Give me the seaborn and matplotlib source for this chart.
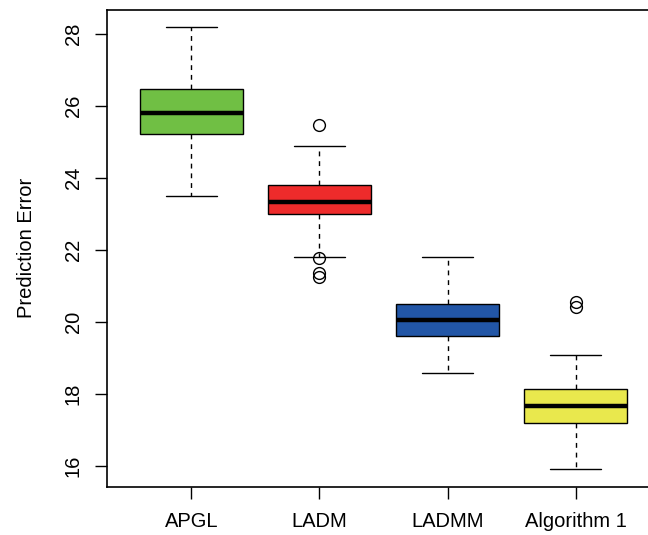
import numpy as np
import pandas as pd
import seaborn as sns
import matplotlib.pyplot as plt

# values (17 obs per method)
methods = ['APGL', 'LADM', 'LADMM', 'Algorithm 1']
apgl = [23.5, 24.0, 24.5, 24.9, 25.23, 25.4, 25.55, 25.7, 25.81,
        25.95, 26.1, 26.3, 26.47, 26.8, 27.2, 27.7, 28.19]
ladm = [21.24, 21.37, 21.77, 21.80, 23.00, 23.1, 23.2, 23.28, 23.34,
        23.45, 23.55, 23.7, 23.81, 24.1, 24.4, 24.89, 25.46]
ladmm = [18.59, 18.9, 19.2, 19.45, 19.62, 19.75, 19.85, 19.95, 20.06,
         20.15, 20.25, 20.4, 20.5, 20.75, 21.0, 21.4, 21.8]
alg1 = [15.92, 16.3, 16.7, 17.0, 17.19, 17.35, 17.45, 17.55, 17.66,
        17.8, 17.9, 18.0, 18.15, 18.5, 19.08, 20.41, 20.56]
colors = ['#70BF44', '#EE2B2B', '#2256A6', '#E9E84D']
yticks = [16, 18, 20, 22, 24, 26, 28]

df = pd.DataFrame({
    'method': np.repeat(methods, [len(apgl), len(ladm), len(ladmm), len(alg1)]),
    'err': apgl + ladm + ladmm + alg1,
})

sns.set_style('ticks')
plt.rcParams['font.family'] = ['Liberation Sans', 'DejaVu Sans']
plt.rcParams.update({'text.color': 'black', 'axes.labelcolor': 'black',
                     'xtick.color': 'black', 'ytick.color': 'black'})

fig = plt.figure(figsize=(6.48, 5.35), dpi=100)
ax = fig.add_axes([107 / 648, 48 / 535, 553 / 648, 477.5 / 535])

sns.boxplot(data=df, x='method', y='err', hue='method', palette=colors,
            order=methods, width=0.8, saturation=1, linecolor='black', linewidth=1,
            legend=False, ax=ax,
            medianprops=dict(color='black', linewidth=3.2),
            whiskerprops=dict(color='black', linewidth=1, linestyle=(0, (3.5, 3.5))),
            capprops=dict(color='black', linewidth=1),
            flierprops=dict(marker='o', markersize=8.5, markerfacecolor='none',
                            markeredgecolor='black', markeredgewidth=1))

ax.set_xlim(-0.66, 3.66)
ax.set_ylim(15.42, 28.68)
ax.set_yticks(yticks)
ax.set_yticklabels([str(v) for v in yticks], rotation=90, va='center')
ax.set_xlabel('')
ax.set_ylabel('Prediction Error', fontsize=14.5, labelpad=20)
ax.tick_params(axis='both', labelsize=14.5, length=8.3, width=1, color='black')
ax.tick_params(axis='y', pad=9)
ax.tick_params(axis='x', pad=10)
for s in ax.spines.values():
    s.set_visible(True)
    s.set_linewidth(1.2)
    s.set_color('black')
ax.spines['right'].set_visible(False)

fig.savefig('out.png', dpi=100)
